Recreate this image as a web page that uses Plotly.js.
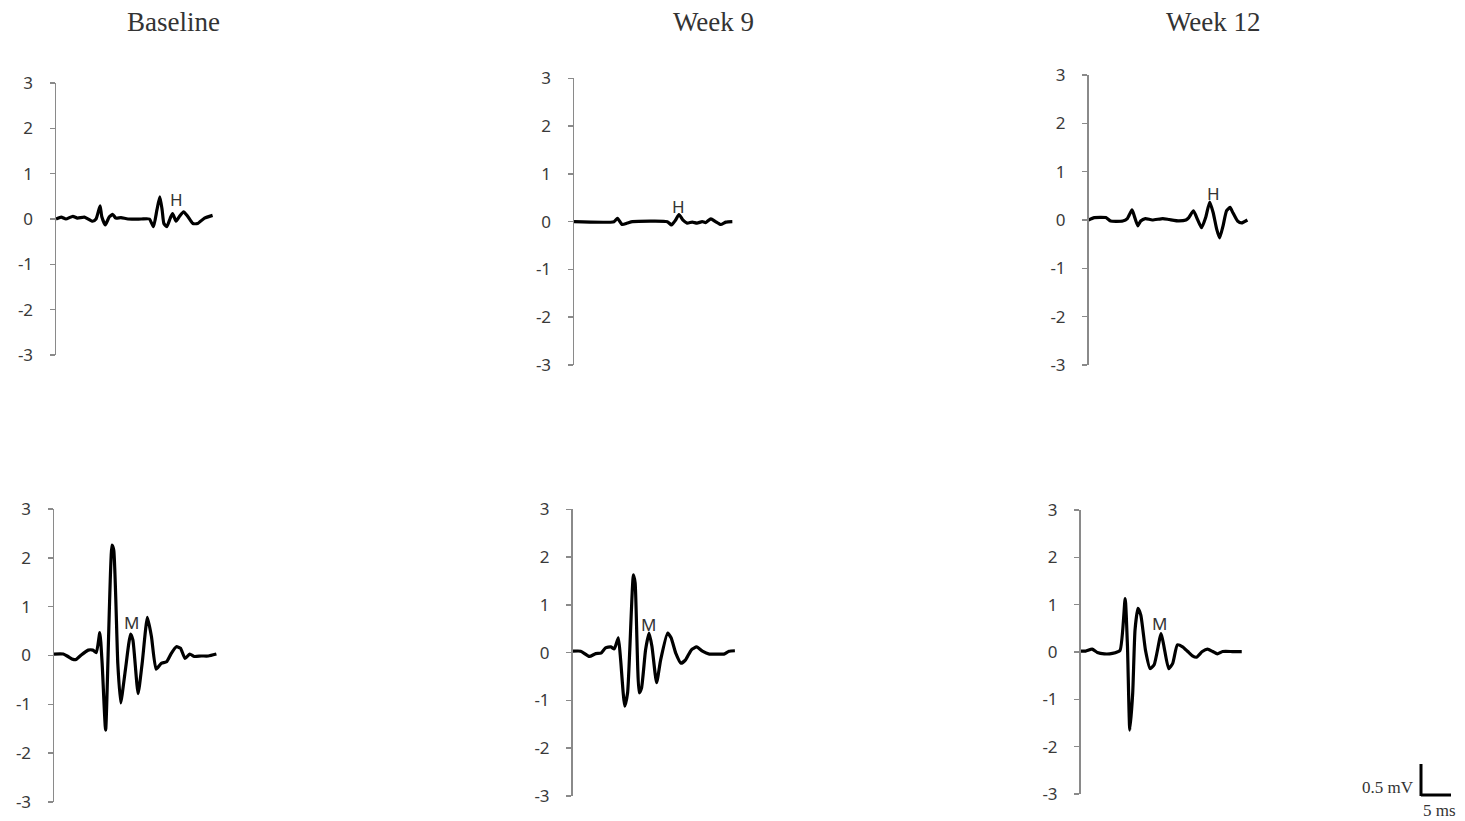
<!DOCTYPE html>
<html>
<head>
<meta charset="utf-8">
<script src="https://cdn.plot.ly/plotly-3.0.1.min.js"></script>
<style>html,body{margin:0;padding:0;background:#fff;}#chart{width:1465px;height:821px;}</style>
</head>
<body>
<div id="chart"></div>
<script>
// ---- data (time in ms, amplitude in axis units) ----
const panelTitles = ["Baseline", "Week 9", "Week 12"];
const yTicks = [-3, -2, -1, 0, 1, 2, 3];

const baseH_t = [0, 0.9, 1.7, 2.9, 3.7, 4.9, 6.3, 6.9, 7.6, 7.9, 8.5, 9.2, 9.8, 10.3, 11.2, 12.4, 14.7, 16.1, 16.8, 17.4, 17.9, 18.3, 18.6, 19.1, 19.7, 20.1, 20.7, 21.3, 22.0, 22.7, 23.6, 24.4, 25.6, 27.0];
const baseH_v = [0, 0.04, 0, 0.06, 0.02, 0.04, -0.05, 0, 0.29, 0.05, -0.13, 0.05, 0.1, 0.02, 0.03, 0, 0, 0, -0.17, 0.2, 0.49, 0.2, -0.1, -0.17, 0.02, 0.12, -0.05, 0.06, 0.16, 0.06, -0.1, -0.1, 0.02, 0.08];

const wk9H_t = [0, 6.9, 7.5, 8.3, 9.2, 10.1, 16.1, 16.8, 17.5, 18.1, 18.8, 19.5, 20.4, 21.2, 22.1, 22.7, 23.6, 24.4, 25.3, 26.2, 27.3];
const wk9H_v = [0, 0, 0.07, -0.06, -0.03, 0, 0, -0.07, 0.03, 0.15, 0.03, -0.03, -0.01, -0.03, 0, -0.02, 0.06, 0, -0.06, -0.01, 0];

const wk12H_t = [0, 1.0, 3.0, 3.8, 5.9, 6.7, 7.5, 7.9, 8.5, 9.0, 9.8, 11.0, 12.8, 13.9, 15.6, 16.8, 17.3, 18.1, 18.8, 19.5, 20.2, 20.9, 21.5, 22.1, 22.6, 23.2, 23.8, 24.4, 24.9, 25.7, 26.4, 27.4];
const wk12H_v = [0, 0.05, 0.05, -0.02, -0.02, 0.03, 0.21, 0.08, -0.12, -0.02, 0.03, 0, 0.03, 0.01, -0.02, 0, 0.05, 0.19, 0.01, -0.16, 0.05, 0.37, 0.15, -0.19, -0.37, -0.12, 0.19, 0.26, 0.15, -0.02, -0.06, 0];

const baseM_t = [0, 1.6, 2.4, 3.3, 3.8, 4.7, 5.9, 6.7, 7.3, 7.9, 8.3, 8.9, 10.0, 10.3, 11.0, 11.5, 12.3, 13.2, 13.6, 14.5, 15.2, 16.1, 16.8, 17.6, 18.5, 19.4, 20.2, 21.1, 21.8, 22.6, 23.4, 24.2, 25.4, 26.6, 28.0];
const baseM_v = [0.03, 0.03, -0.02, -0.08, -0.08, 0.01, 0.11, 0.11, 0.06, 0.47, -0.16, -1.53, 2.26, 2.16, -0.16, -0.97, -0.3, 0.44, 0.32, -0.78, -0.16, 0.78, 0.39, -0.28, -0.16, -0.13, 0.04, 0.18, 0.15, -0.06, 0.03, -0.02, -0.01, -0.01, 0.03];

const wk9M_t = [0, 1.4, 2.9, 4.0, 4.9, 5.7, 6.6, 7.2, 7.9, 8.3, 9.0, 9.5, 10.5, 10.8, 11.5, 11.9, 12.6, 13.2, 13.7, 14.5, 15.2, 16.4, 17.0, 17.8, 18.7, 19.5, 20.5, 21.4, 22.4, 23.6, 25.0, 26.1, 27.0, 28.0];
const wk9M_v = [0.03, 0.03, -0.08, -0.02, -0.01, 0.1, 0.12, 0.08, 0.31, -0.15, -1.12, -0.84, 1.63, 1.46, -0.84, -0.74, 0.06, 0.41, 0.13, -0.63, -0.15, 0.41, 0.31, -0.01, -0.22, -0.15, 0.06, 0.12, 0.03, -0.03, -0.03, -0.03, 0.03, 0.04];

const wk12M_t = [0, 0.9, 2.0, 2.9, 4.1, 5.5, 6.8, 7.7, 8.1, 8.5, 9.0, 9.4, 9.9, 10.4, 11.2, 12.0, 12.7, 13.9, 14.4, 15.2, 15.9, 16.7, 17.6, 18.5, 19.3, 20.0, 21.0, 21.9, 22.8, 23.6, 24.5, 26.2, 27.8];
const wk12M_v = [0.02, 0.02, 0.06, -0.01, -0.04, -0.03, 0.03, 1.13, 0.11, -1.65, -0.87, 0.46, 0.92, 0.78, 0.04, -0.35, -0.27, 0.39, 0.11, -0.35, -0.24, 0.15, 0.11, 0.01, -0.08, -0.11, 0.01, 0.06, 0.01, -0.04, 0.01, 0.01, 0.01];

// wave labels: [text, t(ms), value]
const waveLabels = [
  ["H", 20.7, 0.42], ["H", 18.05, 0.31], ["H", 21.6, 0.55],
  ["M", 13.3, 0.67], ["M", 13.15, 0.59], ["M", 13.6, 0.61]
];

// ---- layout helpers ----
const W = 1465, H = 821;
const PX_PER_MS = 5.8, XMAX = 28.5;
function dx(px0) { return [px0 / W, (px0 + XMAX * PX_PER_MS) / W]; }
function dy(top, bot) { return [1 - bot / H, 1 - top / H]; }

// [axis-left px, y-top(+3) px, y-bottom(-3) px]
const geo = [
  [56, 83, 355], [574, 78.3, 365], [1088.5, 75, 365],
  [54, 509, 802], [572.5, 509.3, 796], [1080.5, 510, 794]
];
const series = [
  [baseH_t, baseH_v], [wk9H_t, wk9H_v], [wk12H_t, wk12H_v],
  [baseM_t, baseM_v], [wk9M_t, wk9M_v], [wk12M_t, wk12M_v]
];

const data = [];
const layout = {
  width: W, height: H,
  margin: {l: 0, r: 0, t: 0, b: 0},
  paper_bgcolor: "#fff", plot_bgcolor: "rgba(0,0,0,0)",
  showlegend: false,
  annotations: [], shapes: []
};

series.forEach((s, i) => {
  const k = i + 1;
  const xa = "xaxis" + (k === 1 ? "" : k), ya = "yaxis" + (k === 1 ? "" : k);
  const xr = "x" + (k === 1 ? "" : k), yr = "y" + (k === 1 ? "" : k);
  data.push({
    x: s[0], y: s[1], xaxis: xr, yaxis: yr, type: "scatter", mode: "lines",
    line: {color: "#000", width: 3.2, shape: "spline", smoothing: 0.5},
    hoverinfo: "skip"
  });
  const g = geo[i];
  layout[xa] = {domain: dx(g[0]), range: [0, XMAX], visible: false, fixedrange: true};
  layout[ya] = {
    domain: dy(g[1], g[2]), range: [-3, 3], anchor: xr,
    showgrid: false, zeroline: false,
    showline: true, linecolor: "#8a8a8a", linewidth: 1.5,
    ticks: "outside", ticklen: 5, tickwidth: 1.5, tickcolor: "#8a8a8a",
    tickvals: yTicks, ticktext: yTicks.map(String),
    ticklabelstandoff: 13,
    tickfont: {family: "Noto Sans, Liberation Sans, sans-serif", size: 17, color: "#3a3a3a"},
    fixedrange: true
  };
  const L = waveLabels[i];
  layout.annotations.push({
    text: L[0], x: L[1], y: L[2], xref: xr, yref: yr, showarrow: false,
    font: {family: "Noto Sans, Liberation Sans, sans-serif", size: 17, color: "#333"}
  });
});

// column titles
const titleX = [173, 713, 1213];
panelTitles.forEach((t, i) => {
  layout.annotations.push({
    text: t, x: titleX[i] / W, y: 1 - 22 / H, xref: "paper", yref: "paper",
    xanchor: "center", yanchor: "middle", showarrow: false,
    font: {family: "Liberation Serif, Times New Roman, serif", size: 27, color: "#333"}
  });
});

// scale bar
layout.shapes.push(
  {type: "line", xref: "paper", yref: "paper", x0: 1421 / W, x1: 1421 / W, y0: 1 - 764 / H, y1: 1 - 796 / H, line: {color: "#000", width: 3}},
  {type: "line", xref: "paper", yref: "paper", x0: 1421 / W, x1: 1451 / W, y0: 1 - 795 / H, y1: 1 - 795 / H, line: {color: "#000", width: 3}}
);
layout.annotations.push(
  {text: "0.5 mV", x: 1416 / W, y: 1 - 787 / H, xref: "paper", yref: "paper", xanchor: "right", yanchor: "middle", showarrow: false,
   font: {family: "Liberation Serif, serif", size: 17, color: "#333"}},
  {text: "5 ms", x: 1439 / W, y: 1 - 810 / H, xref: "paper", yref: "paper", xanchor: "center", yanchor: "middle", showarrow: false,
   font: {family: "Liberation Serif, serif", size: 17, color: "#333"}}
);

Plotly.newPlot("chart", data, layout, {displayModeBar: false, staticPlot: true});
</script>
</body>
</html>
